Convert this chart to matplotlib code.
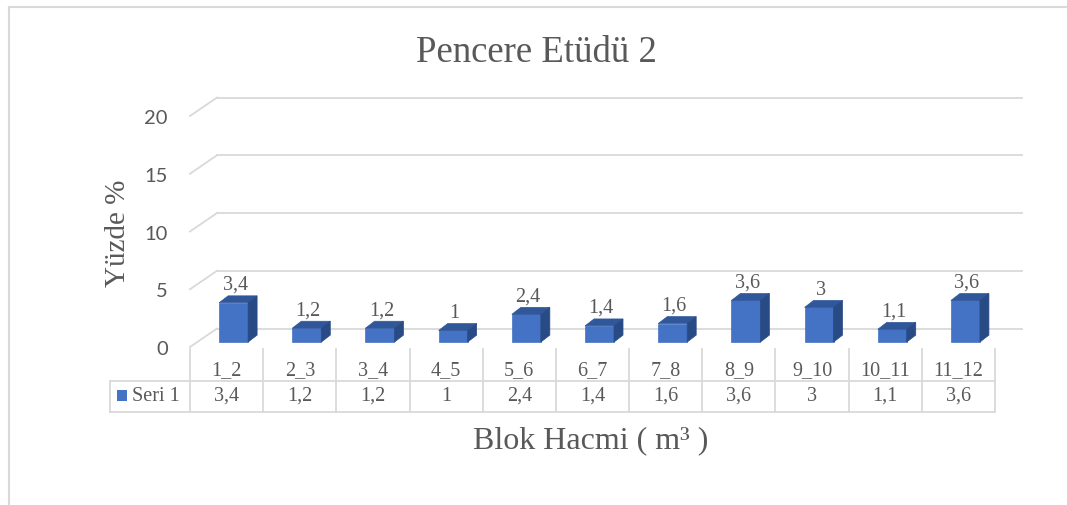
import numpy as np
import matplotlib
matplotlib.use("Agg")
import matplotlib.pyplot as plt
from matplotlib.patches import Polygon, Rectangle
from matplotlib.lines import Line2D

# data
categories = ["1_2", "2_3", "3_4", "4_5", "5_6", "6_7", "7_8", "8_9", "9_10", "10_11", "11_12"]
values = [3.4, 1.2, 1.2, 1.0, 2.4, 1.4, 1.6, 3.6, 3.0, 1.1, 3.6]
yticks = [0, 5, 10, 15, 20]
series_name = "Seri 1"

SERIF = "Liberation Serif"
GRAY = "#595959"
GRID = "#D9D9D9"
FRONT = "#4472C4"
TOP = "#31579B"
SIDE = "#284A85"

W, H = 1067, 506
fig = plt.figure(figsize=(W / 100, H / 100), dpi=100)

# axes = front plane of the 3d box (pixels: x 190..995, y 348..117)
ax = fig.add_axes([190 / W, (H - 348) / H, 805 / W, 231 / H])
ax.set_xlim(-0.5, 10.5)
ax.set_ylim(0, 20)
for s in ax.spines.values():
    s.set_visible(False)
ax.set_xticks([])
ax.set_yticks(yticks)
ax.set_yticklabels([str(t) for t in yticks], family="Lato", fontsize=14.5, color=GRAY)
ax.tick_params(axis="y", length=0, pad=16)
ax.patch.set_alpha(0)

# depth of the back wall and of the bars
wall_dx, wall_dy = 0.369, 1.6
bar_dx0, bar_dy0 = 0.096, 0.43
bar_dx, bar_dy = 0.123, 0.6
bar_w = 0.396

n = len(categories)
x = np.arange(n)

# back wall gridlines + left diagonals
for t in yticks:
    ax.plot([-0.5 + wall_dx, n - 0.5 + wall_dx], [t + wall_dy, t + wall_dy],
            color=GRID, lw=1.3, clip_on=False, zorder=1)
    ax.plot([-0.5, -0.5 + wall_dx], [t, t + wall_dy],
            color=GRID, lw=1.3, clip_on=False, zorder=1)

# bars
ax.bar(x + bar_dx0, values, width=bar_w, bottom=bar_dy0, color=FRONT,
       edgecolor=FRONT, lw=0.5, clip_on=False, zorder=3)
for xi, v in zip(x, values):
    x0 = xi + bar_dx0 - bar_w / 2
    x1 = xi + bar_dx0 + bar_w / 2
    b = bar_dy0
    t = bar_dy0 + v
    top = Polygon([(x0, t), (x1, t), (x1 + bar_dx, t + bar_dy), (x0 + bar_dx, t + bar_dy)],
                  closed=True, facecolor=TOP, edgecolor=TOP, lw=0.5, clip_on=False, zorder=3)
    side = Polygon([(x1, b), (x1 + bar_dx, b + bar_dy), (x1 + bar_dx, t + bar_dy), (x1, t)],
                   closed=True, facecolor=SIDE, edgecolor=SIDE, lw=0.5, clip_on=False, zorder=3)
    ax.add_patch(top)
    ax.add_patch(side)
    ax.text(xi + bar_dx0 + 0.02, t + bar_dy + 0.6, f"{v:g}".replace(".", ","),
            ha="center", va="baseline", family=SERIF, fontsize=14.5, color=GRAY,
            clip_on=False, zorder=4)

# data table under the chart
row_mid = -2.94
row_bot = -5.63
left = -1.593
for k in range(n + 1):
    ax.plot([k - 0.5, k - 0.5], [-0.15, row_bot], color=GRID, lw=1.3, clip_on=False)
ax.plot([left, left], [row_mid, row_bot], color=GRID, lw=1.3, clip_on=False)
ax.plot([left, n - 0.5], [row_mid, row_mid], color=GRID, lw=1.3, clip_on=False)
ax.plot([left, n - 0.5], [row_bot, row_bot], color=GRID, lw=1.3, clip_on=False)

for xi, c, v in zip(x, categories, values):
    ax.text(xi, -1.95, c, ha="center", va="center", family=SERIF, fontsize=14.5,
            color=GRAY, clip_on=False)
    ax.text(xi, -4.2, f"{v:g}".replace(".", ","), ha="center", va="center",
            family=SERIF, fontsize=14.5, color=GRAY, clip_on=False)

ax.add_patch(Rectangle((-1.497, -4.68), 0.137, 0.95, facecolor=FRONT, edgecolor="none",
                       clip_on=False))
ax.text(-1.292, -4.2, series_name, ha="left", va="center", family=SERIF,
        fontsize=14.5, color=GRAY, clip_on=False)

# titles
fig.text(536 / W, 1 - 62 / H, "Pencere Etüdü 2", ha="center", va="baseline",
         family=SERIF, fontsize=26.5, color=GRAY)
fig.text(591 / W, 1 - 448 / H, "Blok Hacmi ( m³ )", ha="center", va="baseline",
         family=SERIF, fontsize=23, color=GRAY)
fig.text(118 / W, 1 - 233 / H, "Yüzde %", ha="center", va="center", rotation=90,
         family=SERIF, fontsize=21, color=GRAY)

# chart area border
fig.add_artist(Line2D([9 / W, 9 / W], [0, 1 - 8 / H], color=GRID, lw=1.5))
fig.add_artist(Line2D([9 / W, 1], [1 - 8 / H, 1 - 8 / H], color=GRID, lw=1.5))

fig.savefig("out.png", dpi=100)
